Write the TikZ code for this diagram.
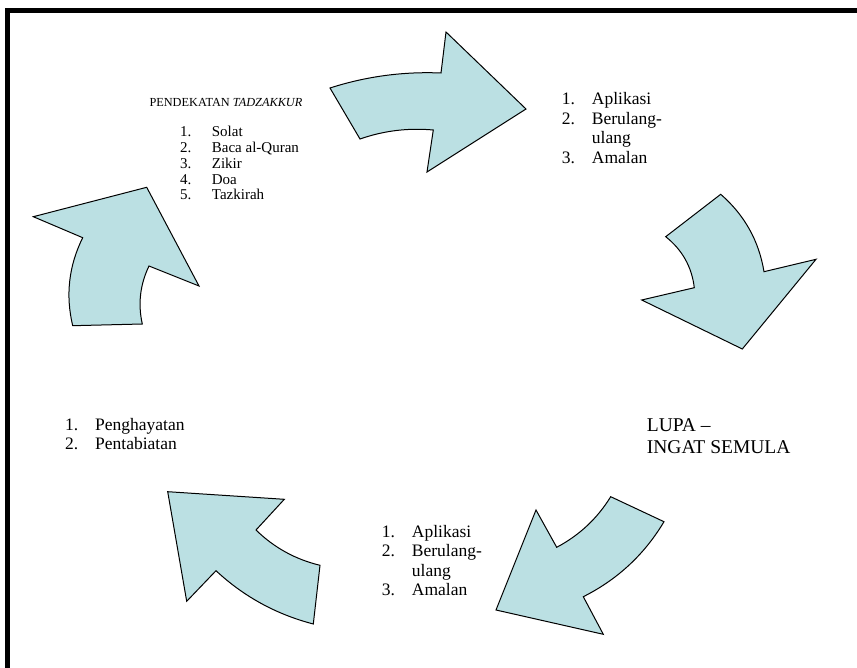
\documentclass[tikz,border=0pt]{standalone}
\usepackage{fontspec}
\setmainfont{Liberation Serif}
\usepackage{tikz}
\definecolor{arrowfill}{HTML}{BBE0E3}

\begin{document}
\begin{tikzpicture}[x=1pt, y=-1pt,
    cyclearrow/.style={draw=black, line width=1pt, fill=arrowfill, line join=miter},
    frame/.style={line width=5pt},
    titletext/.style={anchor=base west, inner sep=0pt, font=\fontsize{12.3}{14}\selectfont},
    smalllist/.style={anchor=base west, inner sep=0pt, font=\fontsize{15}{15.8}\selectfont},
    biglist/.style={anchor=base west, inner sep=0pt, font=\fontsize{17.5}{19.5}\selectfont},
    bigtext/.style={anchor=base west, inner sep=0pt, font=\fontsize{19.5}{21.6}\selectfont}
]
\useasboundingbox (0,0) rectangle (857,668);

% Frame (top and left edges only)
\draw[frame] (862,10.8) -- (7.5,10.8) -- (7.5,673);

% Cycle arrows
\filldraw[cyclearrow] (330,88) .. controls (366.1,76.4) and (403.1,71.4) .. (441,73) -- (446,32)
    -- (526,109) -- (427,172) -- (433.3,130) .. controls (408.2,127.7) and (383.8,130.7) .. (360,139) -- cycle;
\filldraw[cyclearrow] (720.7,194.3) .. controls (744.4,214.9) and (758.9,240.7) .. (764,271.7)
    -- (816,259.3) -- (742.3,349) -- (641.7,300) -- (694.3,287.7)
    .. controls (691.8,266.8) and (682.2,249.8) .. (665.7,236.7) -- cycle;
\filldraw[cyclearrow] (556.7,547.3) .. controls (579.3,535.3) and (597.3,518.5) .. (610.7,496.7)
    -- (664,521.7) .. controls (644.4,554.5) and (617.5,579.5) .. (583.3,596.7)
    -- (603.3,634.3) -- (496,610) -- (536,510) -- cycle;
\filldraw[cyclearrow] (256,530) .. controls (274.1,547.7) and (295.5,559.4) .. (320,565.3)
    -- (313.3,624) .. controls (276.4,614.4) and (243.9,596.7) .. (216,570.7)
    -- (186.7,601.3) -- (167.7,491.7) -- (284.3,499.3) -- cycle;
\filldraw[cyclearrow] (82.7,237.7) .. controls (68.8,265.8) and (65.4,295.2) .. (72.7,325.7)
    -- (142.3,324) .. controls (137.8,303.9) and (140.1,284.5) .. (149,266)
    -- (199,286) -- (146.7,187.3) -- (33.3,216.7) -- cycle;

% Texts
\node[titletext] (title) at (149.3,106.7) {PENDEKATAN \textit{TADZAKKUR}};
\node[smalllist] (tadzakkur) at (180,136.7) {\begin{tabular}[t]{@{}p{31.7pt}@{}l@{}}
    1. & Solat\\ 2. & Baca al-Quran\\ 3. & Zikir\\ 4. & Doa\\ 5. & Tazkirah
  \end{tabular}};
\node[biglist] (amalanatas) at (561.7,105) {\begin{tabular}[t]{@{}p{30pt}@{}l@{}}
    1. & Aplikasi\\ 2. & Berulang-\\ & ulang\\ 3. & Amalan
  \end{tabular}};
\node[bigtext] (lupa) at (646.7,431.7) {\begin{tabular}[t]{@{}l@{}}
    LUPA \textendash\\ INGAT SEMULA
  \end{tabular}};
\node[biglist] (amalanbawah) at (381.7,537) {\begin{tabular}[t]{@{}p{30pt}@{}l@{}}
    1. & Aplikasi\\ 2. & Berulang-\\ & ulang\\ 3. & Amalan
  \end{tabular}};
\node[biglist] (penghayatan) at (65,430) {\begin{tabular}[t]{@{}p{30pt}@{}l@{}}
    1. & Penghayatan\\ 2. & Pentabiatan
  \end{tabular}};

\end{tikzpicture}
\end{document}
